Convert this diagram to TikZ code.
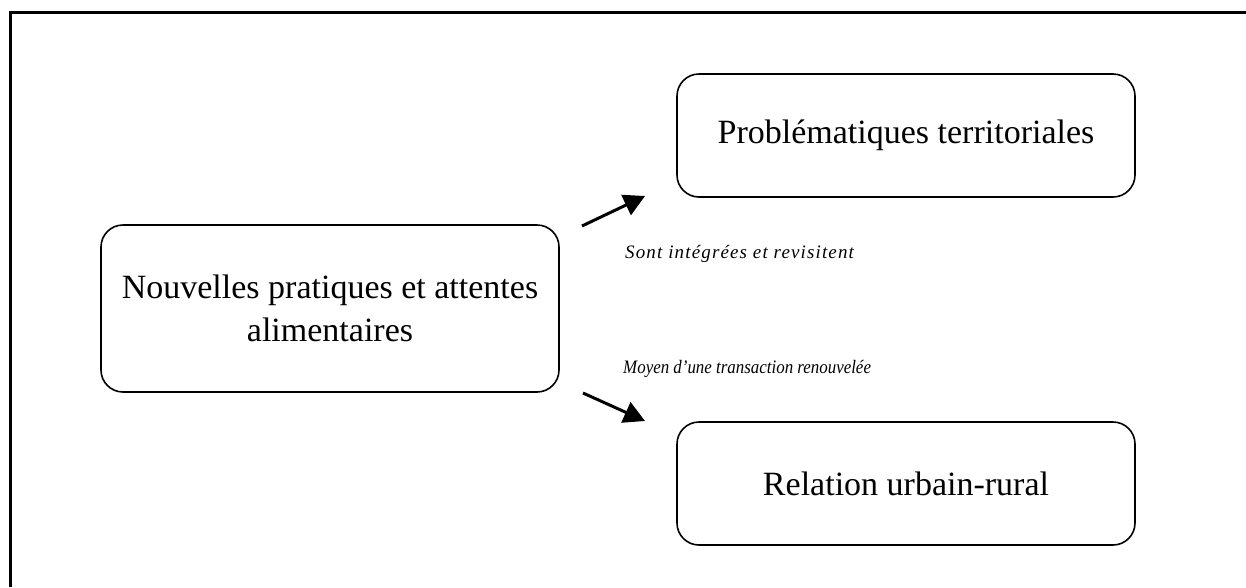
\documentclass[tikz,border=0pt]{standalone}
\usepackage{fontspec}
\usepackage{graphicx}
\setmainfont{Liberation Serif}
\usetikzlibrary{arrows.meta}
\tikzset{
  box/.style={draw=black, line width=1.6pt, rounded corners=22pt, align=center,
    minimum width=458pt, inner sep=0pt, font=\fontsize{34}{43}\selectfont},
  lbl/.style={anchor=base west, inner sep=0pt, font=\fontsize{19}{22}\selectfont\itshape},
  conn/.style={line width=3pt, -{Triangle[length=21pt,width=22pt]}},
  frame/.style={line width=3pt}
}
\begin{document}
\begin{tikzpicture}[x=1pt,y=-1pt]
\useasboundingbox (0,0) rectangle (1246,587);
\draw[frame] (10,587) -- (10,12) -- (1246,12);
\node[box, minimum height=167pt] (src) at (330,308.5) {Nouvelles pratiques et attentes\\alimentaires};
\node[box, minimum height=123pt] (top) at (906,135.5) {Problématiques territoriales};
\node[box, minimum height=123pt] (bot) at (906,483.5) {Relation urbain-rural};
\coordinate (a1s) at (582,226);
\coordinate (a1e) at (645,196);
\coordinate (a2s) at (583,393);
\coordinate (a2e) at (645,421);
\draw[conn] (a1s) -- (a1e);
\draw[conn] (a2s) -- (a2e);
\node[lbl] (l1) at (625,258) {\addfontfeatures{LetterSpace=6}Sont intégrées et revisitent};
\node[lbl] (l2) at (623,373) {\scalebox{0.89}[1]{Moyen d’une transaction renouvelée}};
\end{tikzpicture}
\end{document}
